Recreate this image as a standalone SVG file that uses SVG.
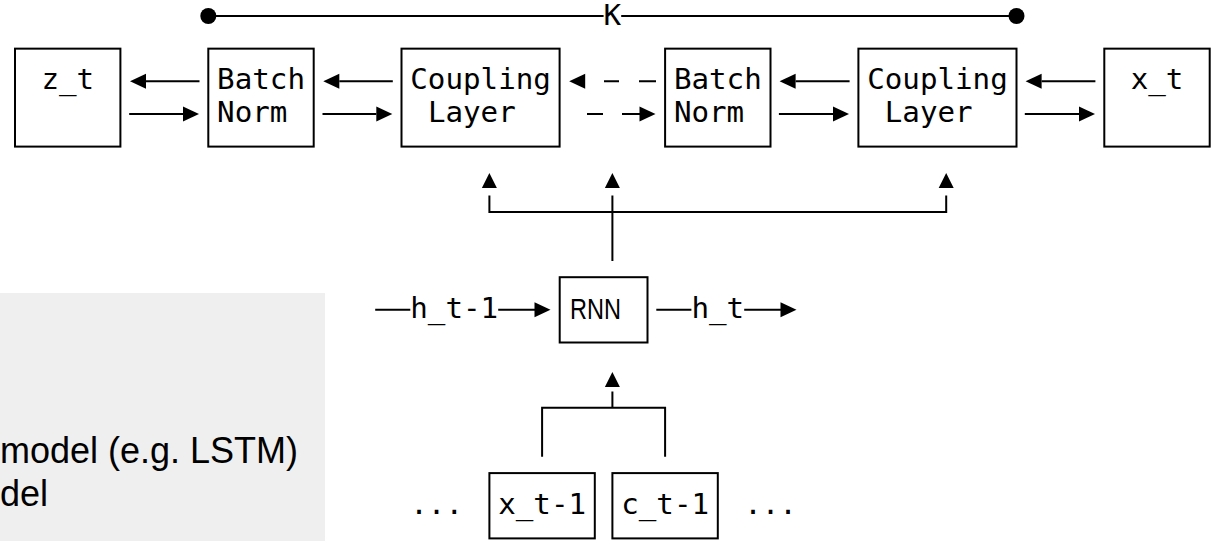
<svg xmlns="http://www.w3.org/2000/svg" width="1217" height="541" viewBox="0 0 1217 541">
<style>
.box{fill:#fff;stroke:#000;stroke-width:2}
.ln{fill:none;stroke:#000;stroke-width:2}
.ah{fill:#000}
.mono{font-family:"DejaVu Sans Mono",monospace;font-size:29.2px;fill:#000}
.sans{font-family:"Liberation Sans",Arial,sans-serif;fill:#000}
</style>
<rect x="0" y="293" width="325" height="248" fill="#efefef"/>
<text class="sans" x="0" y="463" font-size="36">model (e.g. LSTM)</text>
<text class="sans" x="0" y="506" font-size="36">del</text>

<g id="connectors">
  <path class="ln" d="M208.3 16H603.6M621.2 16H1016.5"/>
  <circle cx="208.3" cy="16" r="8"/>
  <circle cx="1016.5" cy="16" r="8"/>
  <text class="mono" x="612.4" y="25" font-size="26" text-anchor="middle">K</text>
  <path class="ln" d="M146 81.3H199.5M129.2 113.95H183"/>
  <polygon class="ah" points="130,81.3 146,73.8 146,88.8"/>
  <polygon class="ah" points="199,113.95 183,106.45 183,121.45"/>
  <path class="ln" d="M339.3 81.3H392.8M322.5 113.95H376.3"/>
  <polygon class="ah" points="323.3,81.3 339.3,73.8 339.3,88.8"/>
  <polygon class="ah" points="392.3,113.95 376.3,106.45 376.3,121.45"/>
  <path class="ln" d="M604 81.3H619M639 81.3H656M587 113.95H603M622 113.95H640.5"/>
  <polygon class="ah" points="569.2,81.3 585.2,73.8 585.2,88.8"/>
  <polygon class="ah" points="655.5,113.95 639.5,106.45 639.5,121.45"/>
  <path class="ln" d="M795.6 81.3H849.6M778.9 113.95H833"/>
  <polygon class="ah" points="779.6,81.3 795.6,73.8 795.6,88.8"/>
  <polygon class="ah" points="849,113.95 833,106.45 833,121.45"/>
  <path class="ln" d="M1041.6 81.3H1095.4M1024.8 113.95H1079"/>
  <polygon class="ah" points="1025.6,81.3 1041.6,73.8 1041.6,88.8"/>
  <polygon class="ah" points="1095,113.95 1079,106.45 1079,121.45"/>
  <path class="ln" d="M489.4 195.6V211.9H946.2V195.6M612.4 195.6V260.9"/>
  <polygon class="ah" points="489.4,173 481.9,188 496.9,188"/>
  <polygon class="ah" points="612.4,173 604.9,188 619.9,188"/>
  <polygon class="ah" points="946.2,173 938.7,188 953.7,188"/>
  <path class="ln" d="M375.2 309.85H410.3M498.2 309.85H535M656.3 309.85H691.4M744.2 309.85H781"/>
  <polygon class="ah" points="550.5,309.85 534.5,302.35 534.5,317.35"/>
  <polygon class="ah" points="796.5,309.85 780.5,302.35 780.5,317.35"/>
  <text class="mono" x="410.3" y="318">h_t-1</text>
  <text class="mono" x="691.4" y="318">h_t</text>
  <path class="ln" d="M612.4 391.5V407.8M542.1 456.8V407.8H665.1V456.8"/>
  <polygon class="ah" points="612.4,372 604.9,387 619.9,387"/>
  <text class="mono" x="410.3" y="514">...</text>
  <text class="mono" x="744.2" y="514">...</text>
</g>

<g id="z_t"><rect class="box" x="15" y="48.65" width="105.4" height="97.95"/><text class="mono" x="41.4" y="89.3">z_t</text></g>
<g id="batchnorm1"><rect class="box" x="208.3" y="48.65" width="105.4" height="97.95"/><text class="mono" x="217.1" y="89.3">Batch</text><text class="mono" x="217.1" y="122">Norm</text></g>
<g id="coupling1"><rect class="box" x="401.5" y="48.65" width="158.1" height="97.95"/><text class="mono" x="410.3" y="89.3">Coupling</text><text class="mono" x="427.9" y="122">Layer</text></g>
<g id="batchnorm2"><rect class="box" x="665.1" y="48.65" width="105.4" height="97.95"/><text class="mono" x="673.9" y="89.3">Batch</text><text class="mono" x="673.9" y="122">Norm</text></g>
<g id="coupling2"><rect class="box" x="858.4" y="48.65" width="158.1" height="97.95"/><text class="mono" x="867.2" y="89.3">Coupling</text><text class="mono" x="884.8" y="122">Layer</text></g>
<g id="x_t"><rect class="box" x="1104.3" y="48.65" width="105.4" height="97.95"/><text class="mono" x="1130.7" y="89.3">x_t</text></g>
<g id="rnn"><rect class="box" x="559.7" y="277.2" width="87.8" height="65.3"/><text class="sans" x="570" y="318.5" font-size="30" textLength="51" lengthAdjust="spacingAndGlyphs">RNN</text></g>
<g id="x_t-1"><rect class="box" x="489.4" y="473.1" width="105.4" height="65.3"/><text class="mono" x="498.2" y="514">x_t-1</text></g>
<g id="c_t-1"><rect class="box" x="612.4" y="473.1" width="105.4" height="65.3"/><text class="mono" x="621.2" y="514">c_t-1</text></g>
</svg>
